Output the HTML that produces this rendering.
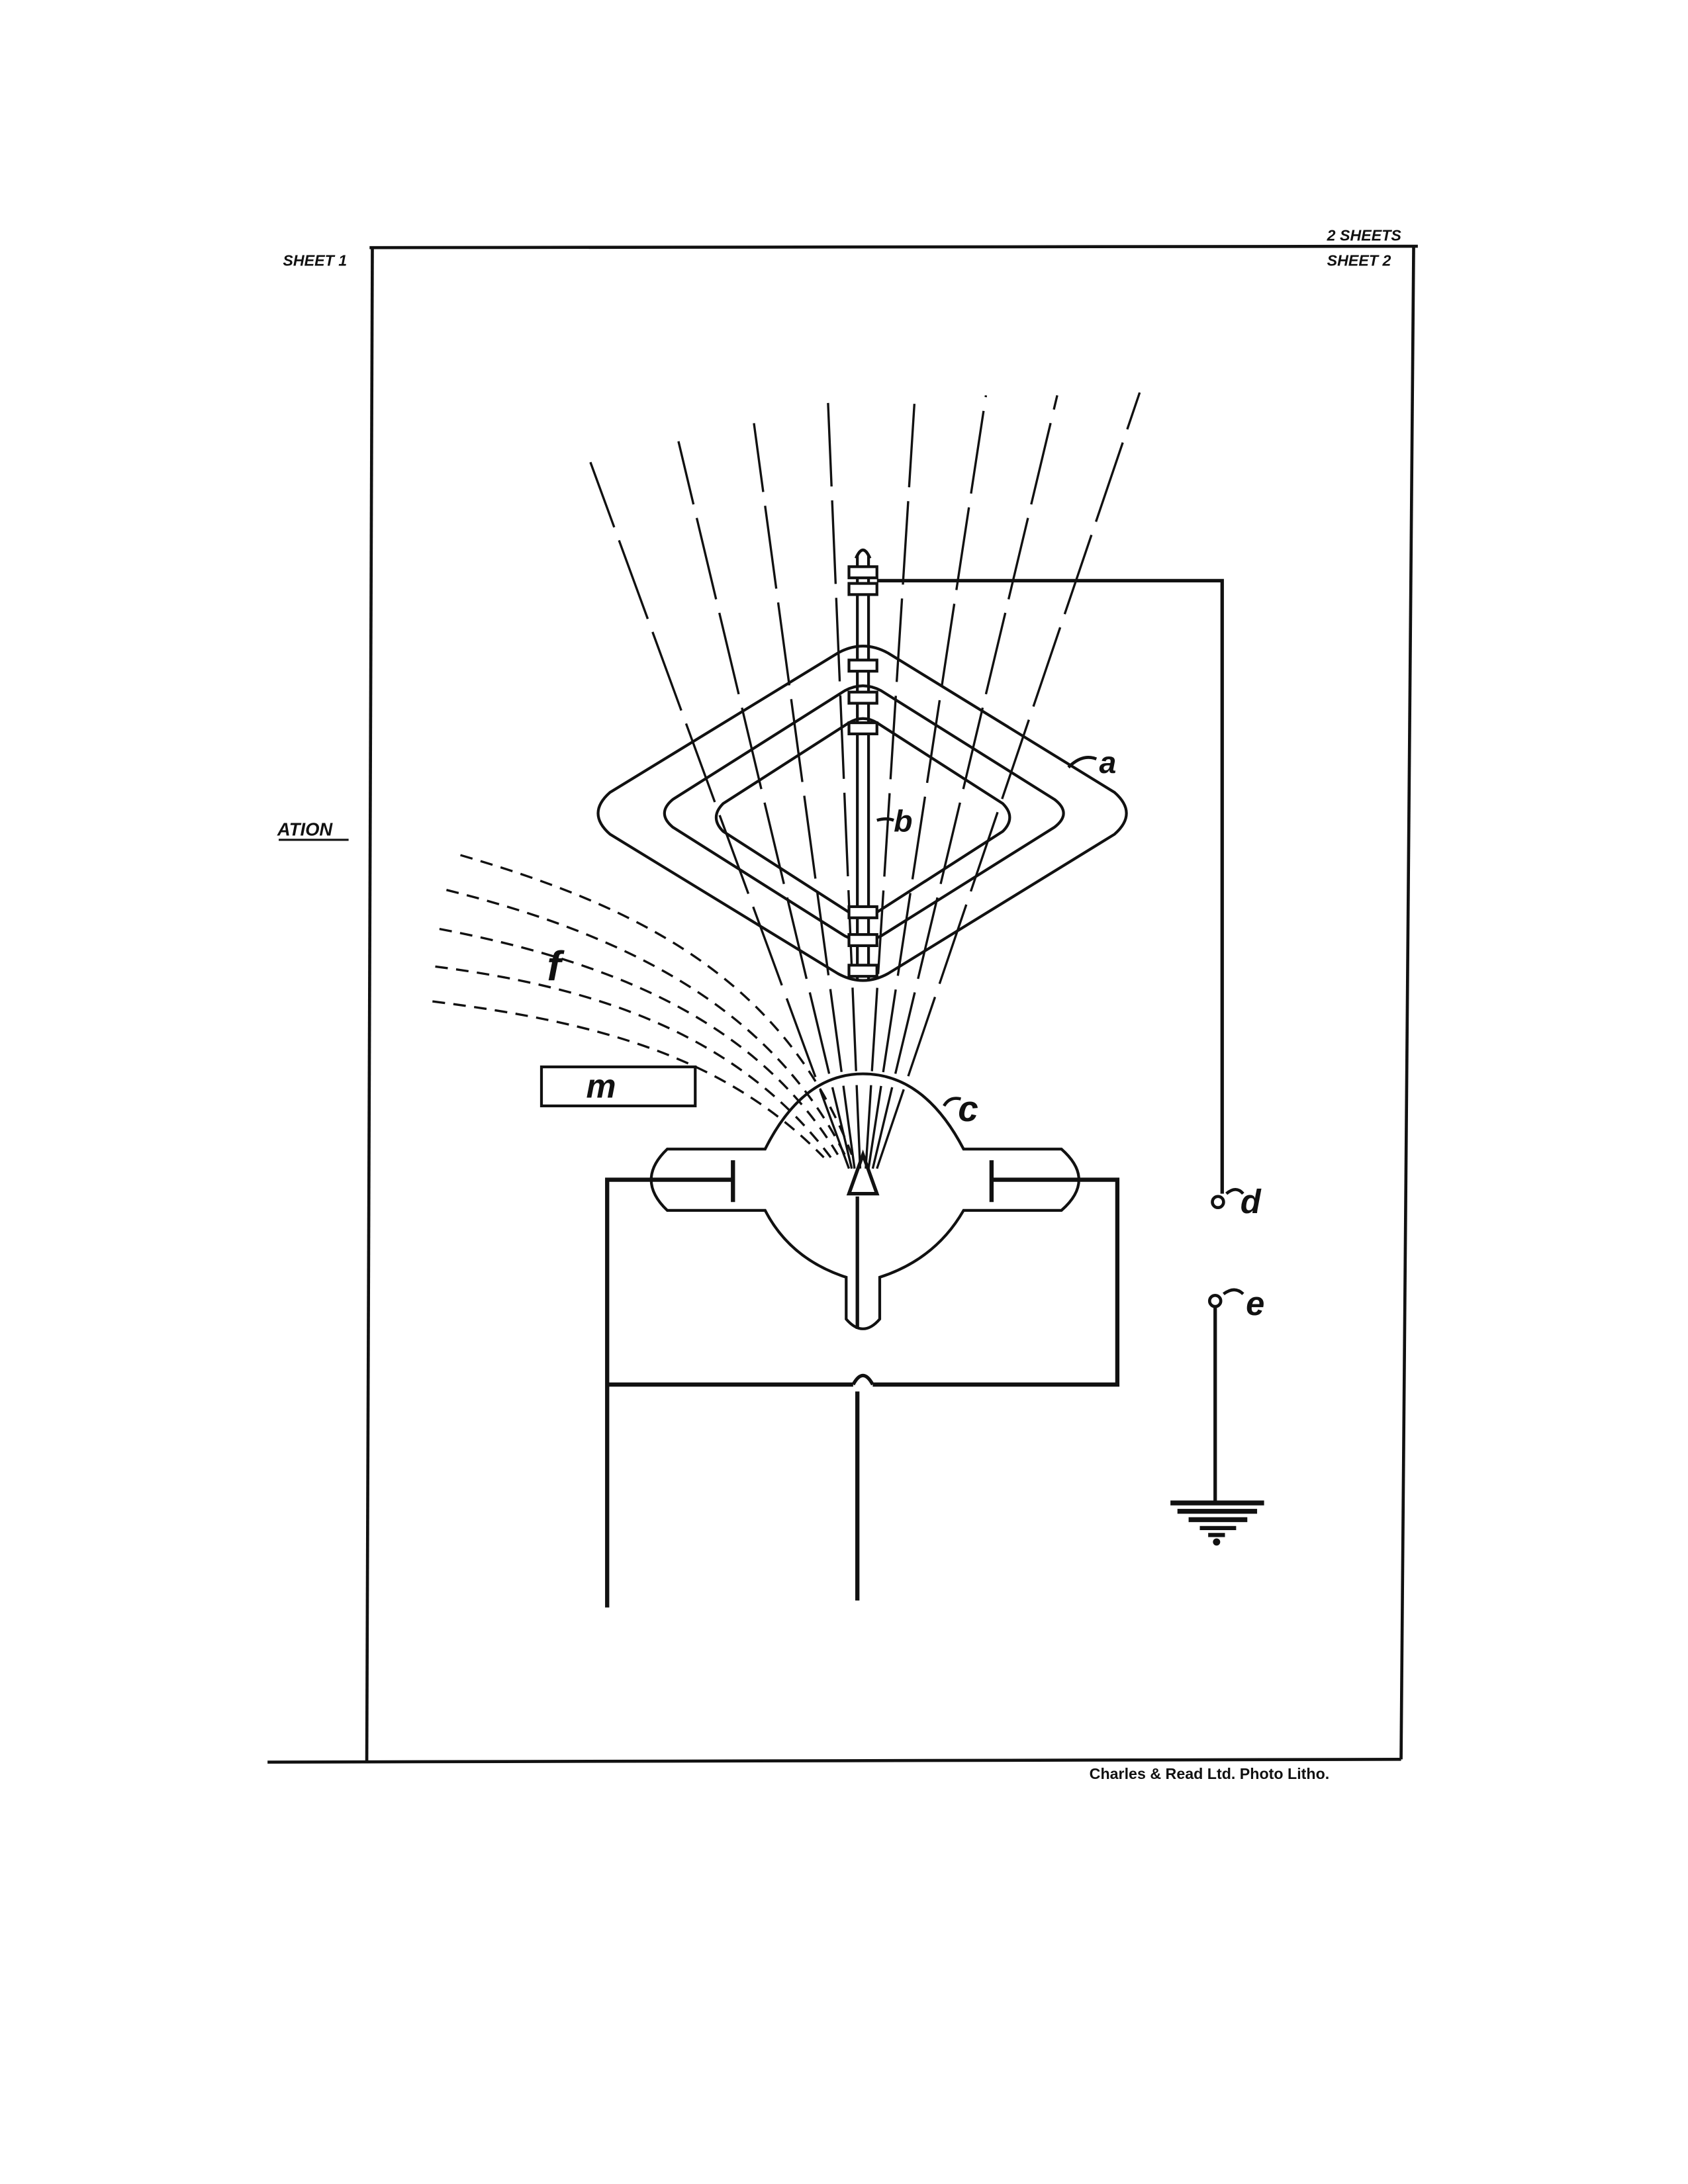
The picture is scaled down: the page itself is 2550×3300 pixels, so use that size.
<!DOCTYPE html>
<html><head><meta charset="utf-8"><style>
html,body{margin:0;padding:0;background:#fff;}
svg{display:block;}
text{font-family:"Liberation Sans",sans-serif;font-weight:bold;fill:#111;}
</style></head><body>
<svg width="2550" height="3300" viewBox="0 0 1224 1584" xmlns="http://www.w3.org/2000/svg">
<g transform="matrix(1.0135,0,0,1.0105,-0.6,-1.27)">
<g stroke="#111" fill="none" stroke-width="2.2">
<!-- frame -->
<line x1="265" y1="179" x2="1015" y2="178"/>
<line x1="267" y1="178" x2="263" y2="1265"/>
<line x1="1012" y1="178" x2="1003" y2="1264"/>
<line x1="192" y1="1266" x2="1003" y2="1264"/>
<line x1="200" y1="604" x2="250" y2="604" stroke-width="1.5"/>
<!-- rays -->
<g stroke-width="1.6" stroke-dasharray="60 10">
<line x1="608" y1="840" x2="423" y2="333"/>
<line x1="610" y1="840" x2="486" y2="318"/>
<line x1="612" y1="840" x2="540" y2="305"/>
<line x1="616" y1="840" x2="593" y2="290"/>
<line x1="620" y1="840" x2="655" y2="288"/>
<line x1="622" y1="840" x2="706" y2="285"/>
<line x1="625" y1="840" x2="757" y2="285"/>
<line x1="628" y1="840" x2="816" y2="283"/>
</g>
<!-- f dashed curves -->
<g stroke-width="1.6" stroke-dasharray="9 6">
<path d="M330 615 C450 650 560 700 610 830"/>
<path d="M320 640 C440 670 550 720 605 830"/>
<path d="M315 668 C430 690 540 730 600 830"/>
<path d="M312 695 C430 710 530 745 595 832"/>
<path d="M310 720 C430 735 520 760 590 832"/>
</g>
<!-- diamond loops -->
<g stroke-width="2" stroke-linejoin="round">
<path d="M437 570 L600 470 Q618 460 636 470 L798 570 Q815 585 798 600 L636 700 Q618 710 600 700 L437 600 Q420 585 437 570 Z"/>
<path d="M482 575 L605 497 Q618 490 631 497 L755 575 Q768 585 755 595 L631 673 Q618 680 605 673 L482 595 Q470 585 482 575 Z"/>
<path d="M518 578 L608 520 Q618 514 628 520 L718 578 Q728 588 718 598 L628 656 Q618 662 608 656 L518 598 Q508 588 518 578 Z"/>
</g>
<!-- rod -->
<line x1="614" y1="400" x2="614" y2="705" stroke-width="2"/>
<line x1="622" y1="400" x2="622" y2="705" stroke-width="2"/>
<path d="M613 402 Q618 390 623 402"/>
<g fill="#fff" stroke-width="2">
<rect x="608" y="408" width="20" height="8"/><rect x="608" y="420" width="20" height="8"/>
<rect x="608" y="475" width="20" height="8"/><rect x="608" y="498" width="20" height="8"/>
<rect x="608" y="520" width="20" height="8"/><rect x="608" y="652" width="20" height="8"/>
<rect x="608" y="672" width="20" height="8"/><rect x="608" y="694" width="20" height="8"/>
</g>
<!-- wire to d -->
<polyline points="628,418 875,418 875,858" stroke-width="2.5"/>
<circle cx="872" cy="864" r="4"/>
<path d="M878 858 Q885 852 890 858"/>
<circle cx="870" cy="935" r="4"/>
<path d="M876 930 Q884 924 890 930"/>
<line x1="870" y1="939" x2="870" y2="1080" stroke-width="2.5"/>
<line x1="838" y1="1080" x2="905" y2="1080" stroke-width="3.5"/>
<line x1="843" y1="1086" x2="900" y2="1086" stroke-width="3.5"/>
<line x1="851" y1="1092" x2="893" y2="1092" stroke-width="3.5"/>
<line x1="859" y1="1098" x2="885" y2="1098" stroke-width="3"/>
<line x1="865" y1="1103" x2="877" y2="1103" stroke-width="3"/>
<circle cx="871" cy="1108" r="1.5" fill="#111"/>
<!-- tube -->
<path d="M548 826 Q575 772 618 772 Q662 772 690 826 L760 826 Q785 848 760 870 L690 870 Q670 905 630 918 L630 948 Q618 962 606 948 L606 918 Q566 905 548 870 L478 870 Q455 848 478 826 Z" stroke-width="2"/>
<line x1="525" y1="834" x2="525" y2="864" stroke-width="3"/>
<line x1="710" y1="834" x2="710" y2="864" stroke-width="3"/>
<path d="M608 858 L618 830 L628 858 Z" stroke-width="2.5"/>
<!-- circuit -->
<polyline points="525,848 435,848 435,1155" stroke-width="3"/>
<polyline points="710,848 800,848 800,995 625,995" stroke-width="3"/>
<path d="M625 995 Q618 982 611 995" stroke-width="2.5"/>
<line x1="611" y1="995" x2="435" y2="995" stroke-width="3"/>
<line x1="614" y1="860" x2="614" y2="955" stroke-width="2.5"/>
<line x1="614" y1="1000" x2="614" y2="1150" stroke-width="3"/>
<!-- m box -->
<rect x="388" y="767" width="110" height="28" stroke-width="2"/>
<!-- label ticks -->
<path d="M765 552 Q775 542 785 546"/>
<path d="M628 590 Q635 588 640 590"/>
<path d="M676 795 Q680 788 688 790"/>
</g>
<g font-style="italic">
<text x="950" y="174" font-size="11">2 SHEETS</text>
<text x="950" y="192" font-size="11">SHEET 2</text>
<text x="203" y="192" font-size="11">SHEET 1</text>
<text x="199" y="601" font-size="13">ATION</text>
<text x="787" y="556" font-size="22" font-weight="normal">a</text>
<text x="640" y="598" font-size="22" font-weight="normal">b</text>
<text x="686" y="806" font-size="26" font-weight="normal">c</text>
<text x="888" y="872" font-size="24" font-weight="normal">d</text>
<text x="892" y="945" font-size="24" font-weight="normal">e</text>
<text x="392" y="705" font-size="30" font-weight="normal">f</text>
<text x="420" y="789" font-size="24" font-weight="normal">m</text>
</g>
<text x="780" y="1278" font-size="11">Charles &amp; Read Ltd. Photo Litho.</text>
</g>
</svg>
</body></html>
